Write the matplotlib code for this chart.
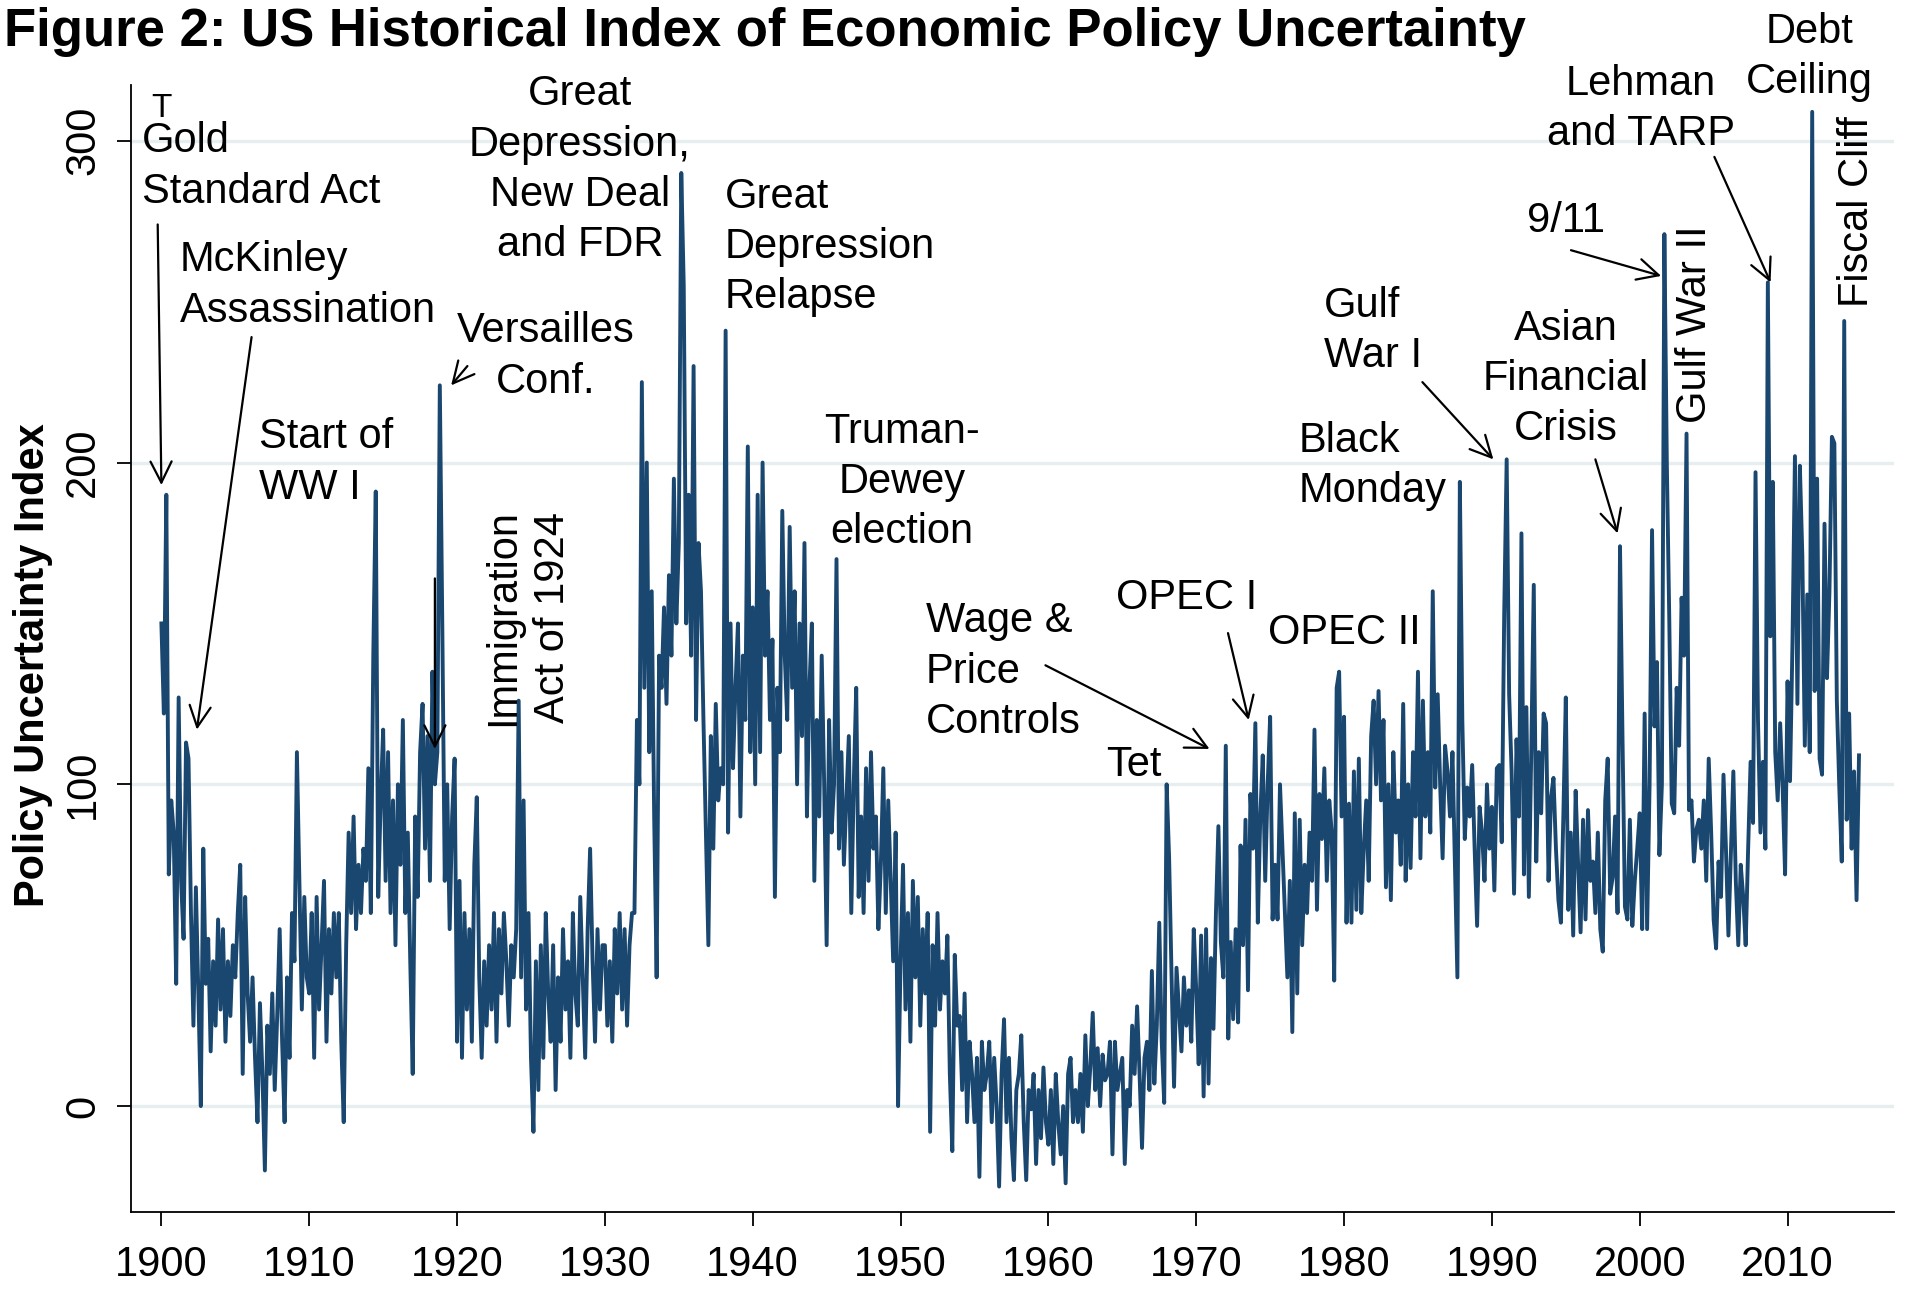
import numpy as np
import matplotlib.pyplot as plt

plt.rcParams['font.family'] = ['Liberation Sans', 'DejaVu Sans']

# index readings, six per year (roughly every other month), one list per decade
epu_1900s = [150, 122, 190, 72, 95, 85,
             38, 127, 70, 52, 113, 108,
             60, 25, 68, 35, 0, 80,
             38, 52, 17, 45, 25, 58,
             30, 55, 20, 45, 28, 50,
             40, 60, 75, 10, 65, 35,
             20, 40, 15, -5, 32, 10,
             -20, 25, 10, 35, 5, 28,
             55, 20, -5, 40, 15, 60,
             45, 110, 70, 30, 65, 40]
epu_1910s = [35, 60, 15, 65, 30, 50,
             70, 20, 55, 35, 60, 40,
             60, 20, -5, 50, 85, 60,
             90, 55, 75, 60, 80, 70,
             105, 60, 140, 191, 65, 95,
             117, 70, 110, 60, 95, 50,
             100, 75, 120, 60, 85, 45,
             10, 90, 65, 110, 125, 80,
             115, 70, 135, 100, 110, 224,
             150, 70, 100, 55, 90, 108]
epu_1920s = [20, 70, 15, 60, 30, 55,
             20, 75, 96, 40, 15, 45,
             25, 50, 30, 60, 20, 55,
             35, 60, 45, 25, 50, 40,
             55, 126, 40, 95, 30, 60,
             15, -8, 45, 5, 50, 15,
             60, 35, 20, 50, 5, 40,
             20, 55, 30, 45, 15, 60,
             35, 25, 65, 40, 15, 55,
             80, 45, 20, 55, 30, 50]
epu_1930s = [50, 25, 45, 20, 55, 35,
             60, 30, 55, 25, 50, 60,
             60, 120, 100, 225, 130, 200,
             110, 160, 90, 40, 140, 130,
             155, 125, 165, 140, 195, 150,
             175, 290, 255, 150, 190, 140,
             230, 120, 175, 160, 120, 85,
             50, 115, 80, 125, 95, 105,
             100, 241, 85, 150, 105, 130,
             150, 90, 140, 120, 205, 110]
epu_1940s = [155, 100, 190, 110, 200, 140,
             160, 120, 145, 65, 130, 110,
             185, 140, 120, 180, 130, 160,
             100, 150, 115, 175, 90, 130,
             150, 70, 120, 90, 140, 100,
             50, 120, 85, 100, 170, 80,
             110, 75, 95, 115, 60, 100,
             130, 65, 90, 60, 105, 70,
             110, 80, 90, 55, 75, 105,
             60, 95, 70, 45, 85, 0]
epu_1950s = [45, 75, 30, 60, 20, 70,
             40, 65, 25, 55, 35, 60,
             -8, 50, 25, 60, 30, 45,
             35, 53, 10, -14, 47, 25,
             28, 5, 35, -5, 20, 10,
             -5, 15, -22, 20, 5, 10,
             20, -5, 15, 0, -25, 10,
             27, -5, 15, -10, -23, 5,
             10, 22, -5, -23, 5, -1,
             10, -18, 5, -10, 12, -5]
epu_1960s = [-12, 5, -18, 10, -5, -15,
             0, -24, 10, 15, -5, 5,
             -5, 10, -8, 22, 0, 12,
             29, 5, 18, 0, 16, 8,
             10, 20, -15, 20, 5, 10,
             15, -18, 5, 0, 25, 10,
             31, 10, -13, 15, 20, 5,
             42, 7, 25, 57, 20, 1,
             100, 77, 40, 6, 43, 30,
             17, 40, 25, 36, 20, 55]
epu_1970s = [36, 13, 53, 3, 55, 7,
             46, 24, 60, 87, 51, 40,
             112, 21, 51, 27, 55, 26,
             81, 50, 89, 36, 97, 80,
             119, 57, 90, 109, 70, 100,
             121, 58, 75, 58, 100, 80,
             60, 40, 70, 23, 91, 35,
             89, 50, 75, 60, 85, 70,
             117, 61, 97, 83, 105, 70,
             95, 85, 39, 130, 135, 90]
epu_1980s = [121, 57, 94, 57, 104, 61,
             108, 60, 80, 95, 70, 115,
             126, 100, 129, 95, 120, 68,
             100, 64, 110, 85, 95, 75,
             125, 70, 100, 74, 110, 90,
             135, 77, 126, 90, 110, 85,
             160, 99, 128, 100, 77, 112,
             104, 90, 110, 75, 40, 194,
             120, 83, 99, 90, 106, 80,
             56, 93, 85, 70, 100, 80]
epu_1990s = [93, 67, 105, 106, 82, 153,
             201, 128, 104, 66, 114, 90,
             178, 72, 124, 65, 111, 162,
             76, 110, 91, 122, 119, 70,
             96, 102, 80, 64, 57, 90,
             127, 61, 85, 53, 98, 75,
             54, 89, 58, 92, 70, 76,
             60, 85, 55, 48, 95, 108,
             66, 71, 90, 60, 174, 115,
             62, 58, 89, 56, 70, 80]
epu_2000s = [91, 55, 122, 55, 100, 179,
             118, 138, 78, 100, 271, 200,
             151, 94, 91, 130, 112, 158,
             140, 209, 92, 95, 76, 86,
             89, 80, 95, 70, 108, 85,
             58, 49, 76, 65, 103, 80,
             53, 78, 104, 70, 50, 75,
             65, 50, 80, 107, 88, 197,
             120, 85, 107, 80, 256, 146,
             194, 110, 95, 119, 99, 72]
epu_2010s = [132, 101, 144, 202, 125, 199,
             171, 112, 159, 110, 309, 129,
             195, 108, 103, 181, 133, 160,
             208, 206, 126, 99, 76, 244,
             89, 122, 80, 104, 64, 109]

first_year = 1900
per_year = 6
year_ticks = [1900, 1910, 1920, 1930, 1940, 1950, 1960, 1970, 1980, 1990, 2000, 2010]
value_ticks = [0, 100, 200, 300]

# event labels: (text, x year, y value, ha, rotation)
events = [
    ("Gold\nStandard Act", 1898.7, 292, 'left', 0),
    ("McKinley\nAssassination", 1901.25, 255, 'left', 0),
    ("Start of\nWW I", 1906.6, 200, 'left', 0),
    ("Versailles\nConf.", 1926.0, 233, 'center', 0),
    ("Great\nDepression,\nNew Deal\nand FDR", 1928.3, 291, 'center', 0),
    ("Great\nDepression\nRelapse", 1938.1, 267, 'left', 0),
    ("Immigration\nAct of 1924", 1924.8, 152, 'center', 90),
    ("Truman-\nDewey\nelection", 1950.1, 194, 'center', 0),
    ("Wage &\nPrice\nControls", 1951.7, 135, 'left', 0),
    ("Tet", 1965.8, 106, 'center', 0),
    ("OPEC I", 1969.35, 158, 'center', 0),
    ("OPEC II", 1980.05, 147, 'center', 0),
    ("Black\nMonday", 1976.9, 199, 'left', 0),
    ("Gulf\nWar I", 1978.65, 241, 'left', 0),
    ("Asian\nFinancial\nCrisis", 1995.0, 226, 'center', 0),
    ("9/11", 1995.0, 275, 'center', 0),
    ("Gulf War II", 2003.75, 243, 'center', 90),
    ("Lehman\nand TARP", 2000.1, 310, 'center', 0),
    ("Debt\nCeiling", 2011.5, 326, 'center', 0),
    ("Fiscal Cliff", 2014.7, 278, 'center', 90),
]

# arrows: (tail x, tail y, head x, head y)
pointers = [
    (1899.75, 274, 1900.0, 193),
    (1906.1, 239, 1902.4, 117),
    (1920.7, 230, 1919.6, 224),
    (1918.5, 164, 1918.5, 111),
    (1959.8, 137, 1970.9, 111),
    (1972.15, 147, 1973.55, 120),
    (1985.3, 225, 1990.1, 201),
    (1997.0, 201, 1998.5, 178),
    (1995.35, 266, 2001.45, 258),
    (2005.05, 295, 2008.85, 256),
]

epu = np.array(epu_1900s + epu_1910s + epu_1920s + epu_1930s + epu_1940s + epu_1950s
               + epu_1960s + epu_1970s + epu_1980s + epu_1990s + epu_2000s + epu_2010s)
t = first_year + np.arange(len(epu)) / per_year

fig = plt.figure(figsize=(19.06, 12.9), dpi=100)
ax = fig.add_axes([0.0687, 0.0605, 0.925, 0.8735])

for v in value_ticks:
    ax.axhline(v, color='#e6eeef', lw=2.4, zorder=0)

ax.plot(t, epu, color='#1a476f', lw=2.8, zorder=2)

ax.set_xlim(1897.94, 2017.2)
ax.set_ylim(-32.9, 317.3)
ax.set_xticks(year_ticks)
ax.set_yticks(value_ticks)
ax.tick_params(axis='both', labelsize=30, length=10, width=1.3, direction='out', pad=10)
ax.tick_params(axis='x', pad=14)
for lab in ax.get_yticklabels():
    lab.set_rotation(90)
    lab.set_va('center')

for side in ['top', 'right']:
    ax.spines[side].set_visible(False)
for side in ['left', 'bottom']:
    ax.spines[side].set_linewidth(1.3)

ax.set_ylabel("Policy Uncertainty Index", fontsize=30, fontweight='bold', labelpad=6)
ax.yaxis.set_label_coords(-0.044, 0.485)

for txt, x, y, ha, rot in events:
    ax.text(x, y, txt, fontsize=30, ha=ha, va='center', rotation=rot,
            multialignment='center' if ha == 'center' else 'left',
            linespacing=1.33, clip_on=False, zorder=3)

ax.text(1900.0, 310, "T", fontsize=24, ha='center', va='center', zorder=3)

for x0, y0, x1, y1 in pointers:
    ax.annotate("", xy=(x1, y1), xytext=(x0, y0),
                arrowprops=dict(arrowstyle='->', color='black', lw=1.6,
                                mutation_scale=38, shrinkA=0, shrinkB=0),
                zorder=3)

fig.text(0.002, 0.975, "Figure 2: US Historical Index of Economic Policy Uncertainty",
         fontsize=38, fontweight='bold', ha='left', va='center')

fig.savefig('out.png', dpi=100)
